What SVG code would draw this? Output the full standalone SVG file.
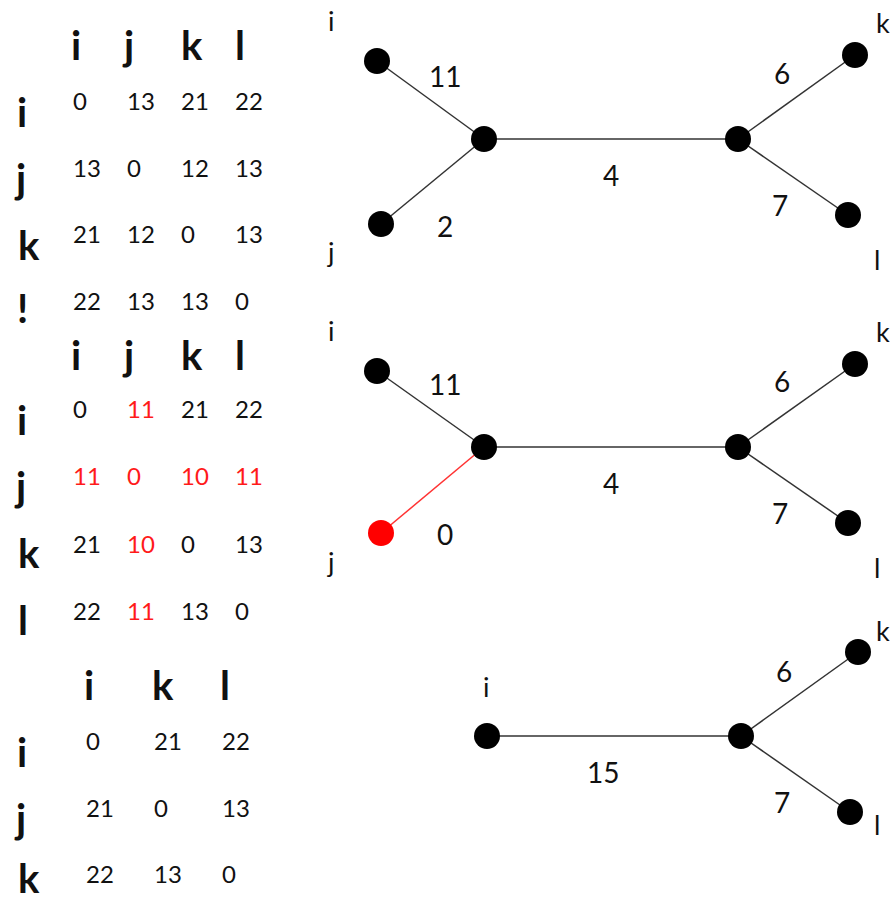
<svg xmlns="http://www.w3.org/2000/svg" width="892" height="903" viewBox="0 0 892 903">
<style>
text{font-family:Lato,"Liberation Sans",sans-serif;fill:#111}
.h{font-size:40px;font-weight:bold}
.d{font-size:24px}
.r{fill:#ff1a1a}
.lb{font-size:27px}
.w{font-size:28px}
.e{stroke:#333;stroke-width:1.5;fill:none}
.er{stroke:#ff3333;stroke-width:1.5;fill:none}
.n{fill:#000}
.nr{fill:#ff0000}
</style>
<rect width="892" height="903" fill="#fff"/>
<g id="table1">
<text class="h" x="71" y="60">i</text><text class="h" x="124" y="60">j</text><text class="h" x="181" y="60">k</text><text class="h" x="235" y="60">l</text>
<text class="h" x="17" y="127">i</text><text class="h" x="16" y="193">j</text><text class="h" x="18" y="260">k</text><text class="h" x="17" y="323">!</text>
<text class="d" x="73" y="110">0</text><text class="d" x="127" y="110">13</text><text class="d" x="181" y="110">21</text><text class="d" x="235" y="110">22</text>
<text class="d" x="73" y="177">13</text><text class="d" x="127" y="177">0</text><text class="d" x="181" y="177">12</text><text class="d" x="235" y="177">13</text>
<text class="d" x="73" y="243">21</text><text class="d" x="127" y="243">12</text><text class="d" x="181" y="243">0</text><text class="d" x="235" y="243">13</text>
<text class="d" x="73" y="310">22</text><text class="d" x="127" y="310">13</text><text class="d" x="181" y="310">13</text><text class="d" x="235" y="310">0</text>
</g>
<g id="table2">
<text class="h" x="71" y="370">i</text><text class="h" x="124" y="370">j</text><text class="h" x="181" y="370">k</text><text class="h" x="235" y="370">l</text>
<text class="h" x="17" y="435">i</text><text class="h" x="16" y="501">j</text><text class="h" x="18" y="568">k</text><text class="h" x="18" y="635">l</text>
<text class="d" x="73" y="418">0</text><text class="d r" x="127" y="418">11</text><text class="d" x="181" y="418">21</text><text class="d" x="235" y="418">22</text>
<text class="d r" x="73" y="485">11</text><text class="d r" x="127" y="485">0</text><text class="d r" x="181" y="485">10</text><text class="d r" x="235" y="485">11</text>
<text class="d" x="73" y="553">21</text><text class="d r" x="127" y="553">10</text><text class="d" x="181" y="553">0</text><text class="d" x="235" y="553">13</text>
<text class="d" x="73" y="620">22</text><text class="d r" x="127" y="620">11</text><text class="d" x="181" y="620">13</text><text class="d" x="235" y="620">0</text>
</g>
<g id="table3">
<text class="h" x="84" y="700">i</text><text class="h" x="152" y="700">k</text><text class="h" x="220" y="700">l</text>
<text class="h" x="17" y="767">i</text><text class="h" x="16" y="833">j</text><text class="h" x="18" y="893">k</text>
<text class="d" x="86" y="750">0</text><text class="d" x="154" y="750">21</text><text class="d" x="222" y="750">22</text>
<text class="d" x="86" y="817">21</text><text class="d" x="154" y="817">0</text><text class="d" x="222" y="817">13</text>
<text class="d" x="86" y="883">22</text><text class="d" x="154" y="883">13</text><text class="d" x="222" y="883">0</text>
</g>
<g id="connectors">
<line class="e" x1="377" y1="61" x2="484" y2="139"/>
<line class="e" x1="381" y1="224" x2="484" y2="139"/>
<line class="e" x1="484" y1="139" x2="738" y2="139"/>
<line class="e" x1="738" y1="139" x2="855" y2="55"/>
<line class="e" x1="738" y1="139" x2="848" y2="215"/>
<line class="e" x1="377" y1="371" x2="484" y2="447"/>
<line class="er" x1="381" y1="533" x2="484" y2="447"/>
<line class="e" x1="484" y1="447" x2="738" y2="447"/>
<line class="e" x1="738" y1="447" x2="855" y2="364"/>
<line class="e" x1="738" y1="447" x2="848" y2="523"/>
<line class="e" x1="487" y1="736" x2="741" y2="736"/>
<line class="e" x1="741" y1="736" x2="858" y2="652"/>
<line class="e" x1="741" y1="736" x2="850" y2="812"/>
</g>
<g id="edge-labels">
<text class="w" x="429" y="87">11</text><text class="w" x="437" y="237">2</text><text class="w" x="603" y="186">4</text><text class="w" x="774" y="84">6</text><text class="w" x="772" y="216">7</text>
<text class="w" x="429" y="395">11</text><text class="w" x="437" y="545">0</text><text class="w" x="603" y="494">4</text><text class="w" x="774" y="392">6</text><text class="w" x="772" y="524">7</text>
<text class="w" x="587" y="783">15</text><text class="w" x="776" y="682">6</text><text class="w" x="774" y="813">7</text>
</g>
<g id="g1-i"><circle class="n" cx="377" cy="61" r="13"/><text class="lb" x="328" y="31">i</text></g>
<g id="g1-j"><circle class="n" cx="381" cy="224" r="13"/><text class="lb" x="328" y="262">j</text></g>
<g id="g1-u"><circle class="n" cx="484" cy="139" r="13"/></g>
<g id="g1-v"><circle class="n" cx="738" cy="139" r="13"/></g>
<g id="g1-k"><circle class="n" cx="855" cy="55" r="13"/><text class="lb" x="876" y="33">k</text></g>
<g id="g1-l"><circle class="n" cx="848" cy="215" r="13"/><text class="lb" x="874" y="270">l</text></g>
<g id="g2-i"><circle class="n" cx="377" cy="371" r="13"/><text class="lb" x="328" y="341">i</text></g>
<g id="g2-j"><circle class="nr" cx="381" cy="533" r="13"/><text class="lb" x="328" y="572">j</text></g>
<g id="g2-u"><circle class="n" cx="484" cy="447" r="13"/></g>
<g id="g2-v"><circle class="n" cx="738" cy="447" r="13"/></g>
<g id="g2-k"><circle class="n" cx="855" cy="364" r="13"/><text class="lb" x="876" y="342">k</text></g>
<g id="g2-l"><circle class="n" cx="848" cy="523" r="13"/><text class="lb" x="874" y="578">l</text></g>
<g id="g3-i"><circle class="n" cx="487" cy="736" r="13"/><text class="lb" x="483" y="697">i</text></g>
<g id="g3-v"><circle class="n" cx="741" cy="736" r="13"/></g>
<g id="g3-k"><circle class="n" cx="858" cy="652" r="13"/><text class="lb" x="876" y="641">k</text></g>
<g id="g3-l"><circle class="n" cx="850" cy="812" r="13"/><text class="lb" x="874" y="835">l</text></g>
</svg>
